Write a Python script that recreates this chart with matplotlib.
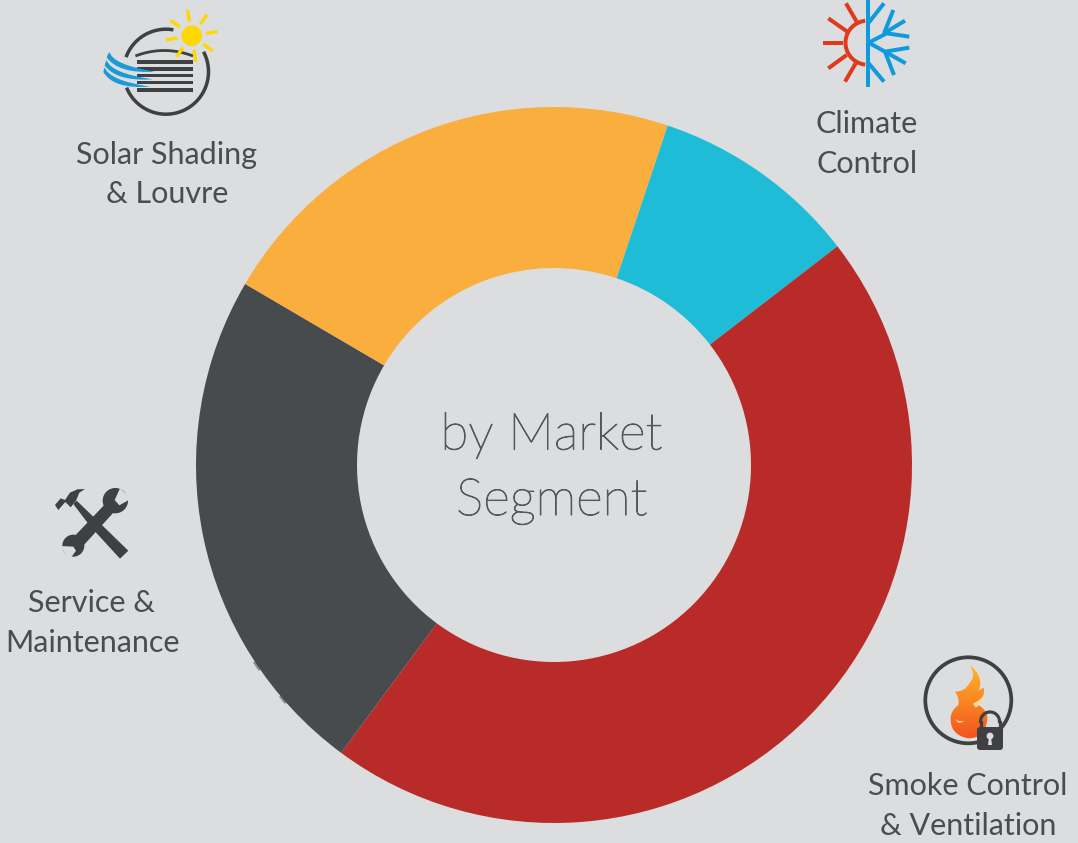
import matplotlib
matplotlib.use('Agg')
import matplotlib.pyplot as plt
import matplotlib.patheffects as pe
from matplotlib.patches import Circle, Polygon, Rectangle, PathPatch, FancyBboxPatch
from matplotlib.path import Path
import numpy as np

segments = ['Climate Control', 'Smoke Control & Ventilation', 'Service & Maintenance', 'Solar Shading & Louvre']
shares = [9.4, 45.6, 23.3, 21.7]
colors = ['#1fbcd8', '#b82b29', '#474b4d', '#f9ae3d']

BG = '#dcddde'
TXT = '#4a4d50'
DARK = '#3f4042'
plt.rcParams['font.family'] = ['Lato', 'DejaVu Sans']

fig = plt.figure(figsize=(10.78, 8.43), dpi=100, facecolor=BG)

# pixel-sized canvas for the labels and icons
ax = fig.add_axes([0, 0, 1, 1])
ax.set_xlim(0, 1078)
ax.set_ylim(843, 0)
ax.axis('off')

# ring
pie_ax = fig.add_axes([(554 - 358) / 1078, 1 - (465 + 358) / 843, 716 / 1078, 716 / 843])
pie_ax.patch.set_alpha(0)
pie_ax.pie(shares, colors=colors, startangle=90 - 18.5, counterclock=False, radius=1,
           wedgeprops={'width': 1 - 197 / 358, 'linewidth': 0})
pie_ax.set_xlim(-1, 1)
pie_ax.set_ylim(-1, 1)

# the light weight is a bit too thin on its own
thicker = [pe.withStroke(linewidth=0.7, foreground='#55585b')]
pie_ax.text(-0.007, 0.084, 'by Market', ha='center', va='center', fontsize=37, color='#55585b',
            fontweight='light', path_effects=thicker)
pie_ax.text(-0.006, -0.1, 'Segment', ha='center', va='center', fontsize=37, color='#55585b',
            fontweight='light', path_effects=thicker)

# segment labels
for x, y, s in [(167, 155, 'Solar Shading'), (167, 194, '& Louvre'),
                (867, 124, 'Climate'), (867, 164, 'Control'),
                (92, 603, 'Service &'), (92, 643, 'Maintenance'),
                (968, 786, 'Smoke Control'), (968, 826, '& Ventilation')]:
    ax.text(x, y, s, ha='center', va='center', fontsize=22, color=TXT)


def px(x0, y0, pts):
    # icon outlines are written on a 3x grid around each icon's corner
    return [(x0 + x / 3, y0 + y / 3) for x, y in pts]


def stroke(x0, y0, pts, color, width):
    xy = np.array(px(x0, y0, pts))
    ax.plot(xy[:, 0], xy[:, 1], color=color, lw=width * 0.72, solid_capstyle='butt', solid_joinstyle='miter')


def arc(cx, cy, r, a0, a1, color, width):
    t = np.radians(np.linspace(a0, a1, 80))
    ax.plot(cx + r * np.cos(t), cy + r * np.sin(t), color=color, lw=width * 0.72, solid_capstyle='butt')


def curve_path(x0, y0, pts):
    # anchor, control, anchor, control, ... so the point count has to be odd
    xy = px(x0, y0, pts)
    return Path(xy, [Path.MOVETO] + [Path.CURVE3] * (len(xy) - 1))


def smooth(x0, y0, pts, color):
    ax.add_patch(PathPatch(curve_path(x0, y0, pts), facecolor=color, lw=0))


# louvre icon
arc(166, 71.7, 42.5, -160, -80, DARK, 3.5)
arc(166, 71.7, 42.5, -28, 158, DARK, 3.5)
for y0, y1 in [(60, 64), (67, 70.5), (74, 77), (81, 84), (88, 92)]:
    ax.add_patch(Rectangle((136.7, y0), 56, y1 - y0, color=DARK, lw=0))
t = np.linspace(0, 1, 30)
ax.plot(136.7 + 55 * t, 55.5 - 20 * t * (1 - t), color=DARK, lw=2)
for p in [[(58, 156), (70, 195), (195, 215), (85, 222), (50, 172), (52, 165), (58, 156)],
          [(50, 180), (62, 220), (188, 238), (78, 245), (44, 196), (46, 188), (50, 180)],
          [(44, 202), (58, 242), (180, 260), (70, 268), (40, 216), (41, 210), (44, 202)]]:
    smooth(90, 0, p, '#1a9ad6')
ax.add_patch(Circle((191.7, 35.7), 10.3, color='#fed800', lw=0))
for a in range(-99, 261, 45):
    r = np.radians(a)
    ax.plot([191.7 + 14.5 * np.cos(r), 191.7 + 26 * np.cos(r)],
            [35.7 + 14.5 * np.sin(r), 35.7 + 26 * np.sin(r)],
            color='#fed800', lw=2.4, solid_capstyle='butt')

# climate icon: half sun, half snowflake
arc(867.5, 42.7, 22, 96, 264, '#e03a1e', 4)
for p in [[(40, 128), (100, 128)], [(55, 55), (112, 95)], [(108, 10), (140, 65)],
          [(55, 205), (110, 165)], [(105, 245), (137, 190)]]:
    stroke(810, 0, p, '#e03a1e', 4)
for p in [[(174, 0), (174, 260)], [(176, 68), (222, 10)], [(176, 128), (230, 100), (298, 110)],
          [(222, 100), (250, 30)], [(225, 98), (285, 62)], [(176, 128), (225, 155), (298, 143)],
          [(225, 155), (287, 190)], [(225, 155), (252, 225)], [(176, 190), (222, 245)]]:
    stroke(810, 0, p, '#0f9ade', 4)

# crossed hammer and wrench
ax.add_patch(Polygon(px(40, 480, [(100, 72), (110, 62), (165, 115), (265, 212), (240, 236), (150, 138)]),
                     color=DARK, lw=0))
ax.add_patch(Polygon(px(40, 480, [(45, 75), (62, 55), (75, 60), (90, 38), (112, 28), (135, 27), (118, 38),
                                  (108, 62), (92, 82), (76, 66), (55, 90)]),
                     color=DARK, lw=0))
ax.add_patch(Polygon(px(40, 480, [(205, 62), (232, 85), (118, 210), (88, 185)]), color=DARK, lw=0))
ax.add_patch(Circle((40 + 226 / 3, 480 + 62 / 3), 38 / 3, color=DARK, lw=0))
ax.add_patch(Polygon(px(40, 480, [(224, 60), (240, 25), (275, 55), (238, 76)]), color=BG, lw=0))
ax.add_patch(Circle((40 + 100 / 3, 480 + 197 / 3), 33 / 3, color=DARK, lw=0))
ax.add_patch(Polygon(px(40, 480, [(100, 200), (62, 198), (88, 240), (108, 212)]), color=BG, lw=0))

# smoke lock icon
ax.add_patch(Circle((968.3, 700.3), 43, facecolor='none', edgecolor=DARK, lw=2.7))
flame = [(175, 265), (118, 255), (122, 200), (125, 180), (145, 165), (150, 145), (135, 125), (165, 125),
         (178, 100), (200, 80), (180, 45), (225, 85), (205, 122), (215, 118), (222, 112), (225, 140),
         (205, 165), (232, 180), (232, 205), (228, 265), (175, 265)]
flame_patch = PathPatch(curve_path(910, 650, flame), facecolor='none', lw=0)
ax.add_patch(flame_patch)
grad = np.linspace(0, 1, 100).reshape(-1, 1)
grad_rgb = np.array([1.0, 0.72, 0.15]) * (1 - grad) + np.array([0.95, 0.32, 0.12]) * grad
img = ax.imshow(grad_rgb.reshape(100, 1, 3), extent=(945, 990, 740, 665), aspect='auto', zorder=2)
img.set_clip_path(flame_patch)
ax.set_xlim(0, 1078)
ax.set_ylim(843, 0)
for p in [[(190, 160), (215, 150), (222, 132), (215, 165), (198, 172), (190, 168), (190, 160)],
          [(135, 205), (145, 218), (162, 212), (145, 228), (135, 205)]]:
    ax.add_patch(PathPatch(curve_path(910, 650, p), facecolor='#f9d9a0', lw=0, zorder=3))

ax.add_patch(FancyBboxPatch((977, 727), 26, 23, boxstyle='round,pad=0,rounding_size=3', color=DARK, lw=0, zorder=4))
for art in [ax.plot([980.5, 980.5], [721.5, 728], color=DARK, lw=2.3)[0],
            ax.plot([999.5, 999.5], [721.5, 728], color=DARK, lw=2.3)[0]]:
    art.set_zorder(4)
t = np.radians(np.linspace(180, 360, 40))
ax.plot(990 + 9.5 * np.cos(t), 721.5 + 9.5 * np.sin(t), color=DARK, lw=2.3, zorder=4)
ax.add_patch(Circle((990, 736), 3.4, color=BG, lw=0, zorder=5))
ax.add_patch(Polygon([(989, 737), (991, 737), (992, 745), (988, 745)], color=BG, lw=0, zorder=5))

# small smudges on the dark segment's outer edge
ax.plot([255, 259], [663, 669], color='#8a8c8e', lw=2, zorder=6)
ax.plot([281, 285], [697, 702], color='#8a8c8e', lw=2, zorder=6)

fig.savefig('out.png', dpi=100, facecolor=BG)
